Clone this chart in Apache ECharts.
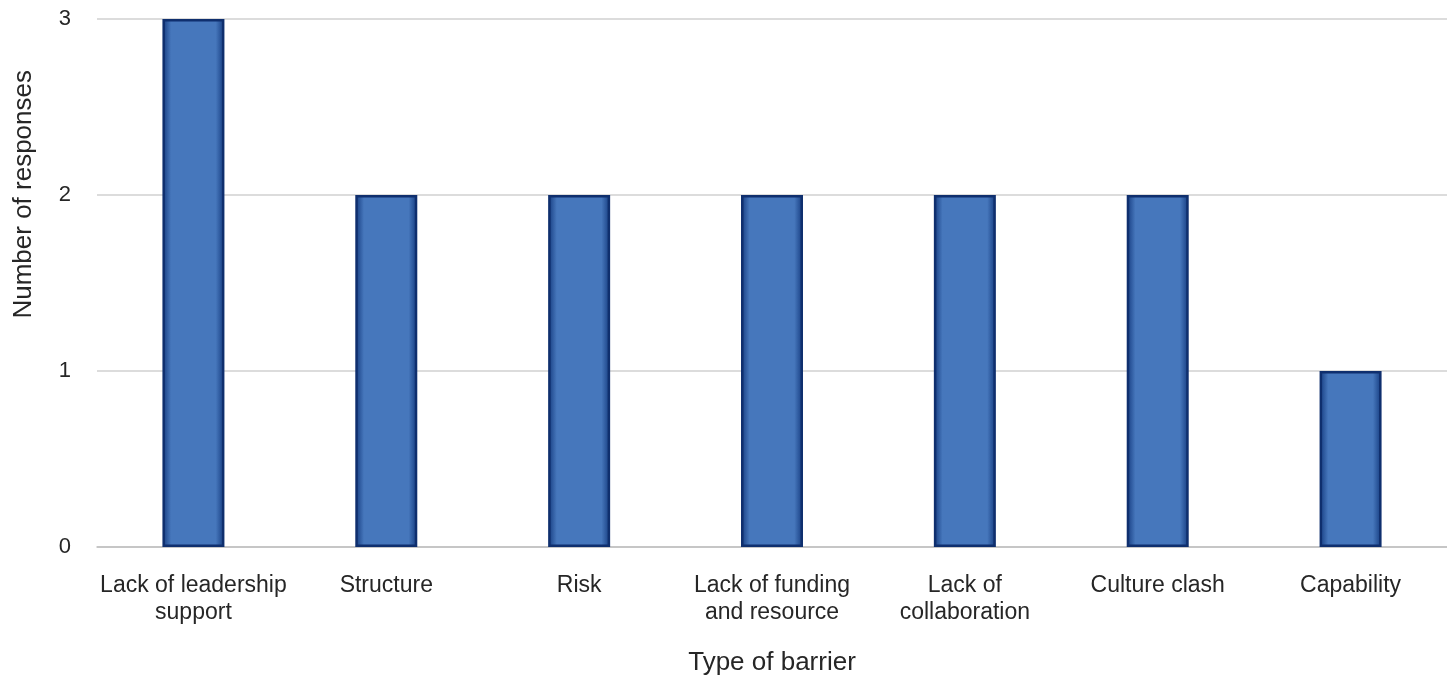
<!DOCTYPE html>
<html>
<head>
<meta charset="utf-8">
<script src="https://cdn.jsdelivr.net/npm/echarts@6/dist/echarts.min.js"></script>
<style>
html,body{margin:0;padding:0;background:#fff;}
#chart{width:1447px;height:681px;}
</style>
</head>
<body>
<div id="chart"></div>
<script>
const categories = ["Lack of leadership\nsupport", "Structure", "Risk", "Lack of funding\nand resource", "Lack of\ncollaboration", "Culture clash", "Capability"];
const values = [3, 2, 2, 2, 2, 2, 1];
const yTicks = [0, 1, 2, 3];
const xTitle = "Type of barrier";
const yTitle = "Number of responses";

const font = "'Liberation Sans', Arial, sans-serif";
const chart = echarts.init(document.getElementById('chart'));
chart.setOption({
  animation: false,
  grid: {left: 97, right: 0, top: 19, bottom: 113},
  xAxis: {
    type: 'category',
    data: categories,
    name: xTitle,
    nameLocation: 'middle',
    nameGap: 103,
    nameTextStyle: {fontFamily: font, fontSize: 26, color: '#262626'},
    axisLine: {lineStyle: {color: '#bfbfbf', width: 1.5}},
    axisTick: {show: false},
    axisLabel: {fontFamily: font, fontSize: 23, color: '#262626', margin: 25, lineHeight: 27, interval: 0}
  },
  yAxis: {
    type: 'value',
    min: yTicks[0],
    max: yTicks[yTicks.length - 1],
    interval: 1,
    axisLine: {show: false},
    axisTick: {show: false},
    splitLine: {lineStyle: {color: '#d0d0d0', width: 1.5}},
    axisLabel: {fontFamily: font, fontSize: 22, color: '#262626', margin: 26}
  },
  graphic: [{
    type: 'text',
    left: 11,
    top: 70,
    rotation: Math.PI / 2,
    originX: 0, originY: 0,
    style: {text: yTitle, font: "26px 'Liberation Sans', Arial, sans-serif", fill: '#262626'}
  }],
  series: [{
    type: 'bar',
    data: values,
    barWidth: 62,
    itemStyle: {
      color: {
        type: 'linear', x: 0, y: 0, x2: 1, y2: 0,
        colorStops: [
          {offset: 0, color: '#143a7e'},
          {offset: 0.14, color: '#4677bc'},
          {offset: 0.86, color: '#4677bc'},
          {offset: 1, color: '#143a7e'}
        ]
      },
      borderColor: '#0f2f6e',
      borderWidth: 2.5
    }
  }]
});
</script>
</body>
</html>
